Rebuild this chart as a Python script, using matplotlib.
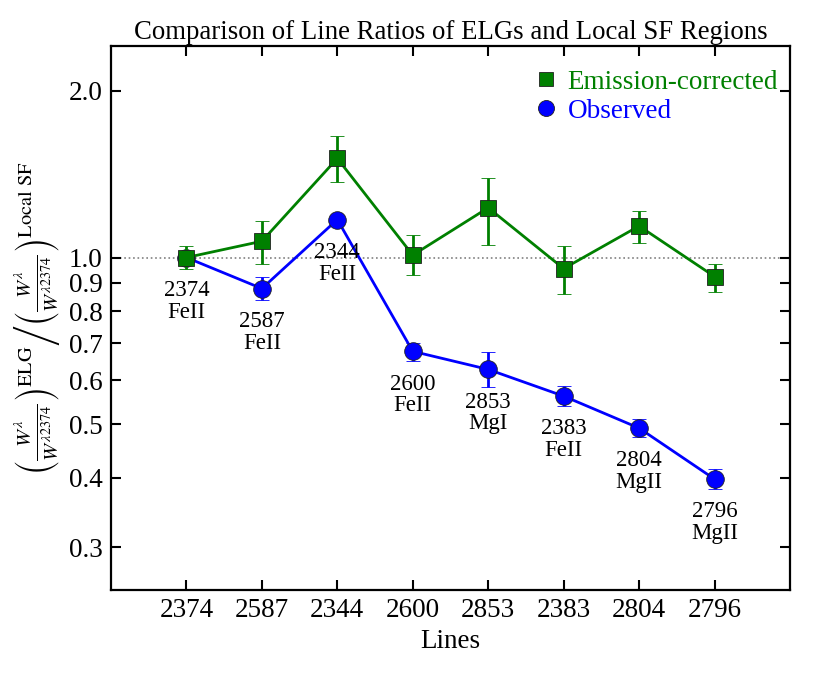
import numpy as np
import matplotlib
matplotlib.use("Agg")
import matplotlib.pyplot as plt
from matplotlib.lines import Line2D
from matplotlib.ticker import FixedLocator, FormatStrFormatter, NullLocator

plt.rcParams['font.family'] = ['Liberation Serif', 'DejaVu Serif']
plt.rcParams['mathtext.fontset'] = 'stix'

# line wavelengths and species, in plotting order
lines = ["2374", "2587", "2344", "2600", "2853", "2383", "2804", "2796"]
species = ["FeII", "FeII", "FeII", "FeII", "MgI", "FeII", "MgII", "MgII"]

# emission-corrected ratios with lower / upper limits
corr = [1.00, 1.07, 1.51, 1.01, 1.23, 0.955, 1.14, 0.924]
corr_lo = [0.955, 0.975, 1.37, 0.928, 1.055, 0.861, 1.064, 0.868]
corr_hi = [1.05, 1.166, 1.66, 1.10, 1.39, 1.047, 1.215, 0.975]

# observed ratios with lower / upper limits
obs = [1.00, 0.879, 1.171, 0.677, 0.628, 0.562, 0.492, 0.398]
obs_lo = [0.99, 0.837, 1.15, 0.650, 0.583, 0.539, 0.474, 0.382]
obs_hi = [1.01, 0.924, 1.19, 0.702, 0.674, 0.586, 0.511, 0.415]

yticks = [0.3, 0.4, 0.5, 0.6, 0.7, 0.8, 0.9, 1.0, 2.0]

x = np.arange(len(lines))
corr = np.array(corr)
obs = np.array(obs)
corr_err = [corr - np.array(corr_lo), np.array(corr_hi) - corr]
obs_err = [obs - np.array(obs_lo), np.array(obs_hi) - obs]

fig = plt.figure(figsize=(8.3, 6.79), dpi=100)
ax = fig.add_axes([0.1337, 0.1311, 0.8181, 0.8012])

ax.axhline(1.0, color='gray', ls=':', lw=1.2, zorder=1)

ax.errorbar(x, obs, yerr=obs_err, color='blue', marker='o', ms=12.7,
            mec='#202020', mew=0.6, lw=2, elinewidth=2, capsize=5,
            capthick=2, zorder=2)
ax.errorbar(x, corr, yerr=corr_err, color='green', marker='s', ms=11,
            mec='#202020', mew=0.6, lw=2, elinewidth=2, capsize=5,
            capthick=2, zorder=3)

for xi, yi, wl, sp in zip(x, obs, lines, species):
    ax.annotate(wl + "\n" + sp, (xi, yi), xytext=(0, -16), textcoords='offset points',
                ha='center', va='top', fontsize=16.5, linespacing=1.05)

ax.set_yscale('log')
ax.set_xlim(-1, 8)
ax.set_ylim(0.251, 2.41)
ax.yaxis.set_major_locator(FixedLocator(yticks))
ax.yaxis.set_major_formatter(FormatStrFormatter('%.1f'))
ax.yaxis.set_minor_locator(NullLocator())
ax.set_xticks(x)
ax.set_xticklabels(lines)

ax.tick_params(direction='in', length=7, width=1.5, labelsize=19.5,
               top=True, right=True)
ax.tick_params(axis='x', pad=6)
ax.tick_params(axis='y', pad=6)
for s in ax.spines.values():
    s.set_linewidth(1.6)

ax.set_title("Comparison of Line Ratios of ELGs and Local SF Regions", fontsize=19.3, pad=5)
ax.set_xlabel("Lines", fontsize=19.5, labelpad=4)
ax.set_ylabel(r"$\left(\frac{W^{\lambda}}{W^{\lambda 2374}}\right)^{\rm ELG}"
              r"\left/\left(\frac{W^{\lambda}}{W^{\lambda 2374}}\right)^{\rm Local\ SF}\right.$",
              fontsize=21, labelpad=4)

handles = [Line2D([], [], ls='none', marker='s', ms=9.5, color='green', mec='#202020', mew=0.6),
           Line2D([], [], ls='none', marker='o', ms=11.5, color='blue', mec='#202020', mew=0.6)]
leg = ax.legend(handles, ["Emission-corrected", "Observed"], loc='upper right',
                bbox_to_anchor=(0.9985, 0.976), frameon=False, fontsize=19.5,
                handlelength=0.8, handletextpad=0.4, borderaxespad=0.0,
                labelspacing=0.15)
for txt, c in zip(leg.get_texts(), ['green', 'blue']):
    txt.set_color(c)

fig.savefig("out.png", dpi=100)
